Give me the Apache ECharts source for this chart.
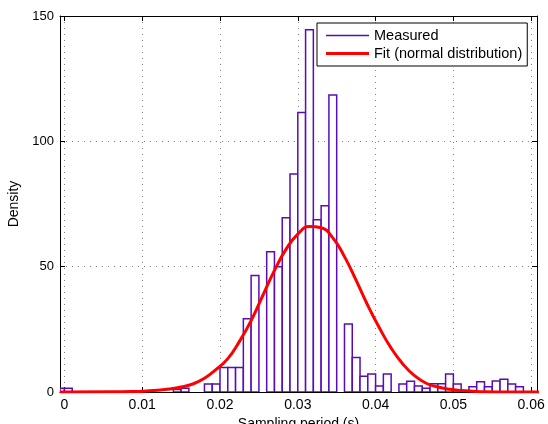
<!DOCTYPE html>
<html>
<head>
<meta charset="utf-8">
<script src="https://cdn.jsdelivr.net/npm/echarts@6/dist/echarts.min.js"></script>
<style>
html,body{margin:0;padding:0;background:#fff;}
#chart{width:548px;height:424px;}
</style>
</head>
<body>
<div id="chart"></div>
<script>
// Histogram bins (left edge of each 0.001 s bin) and measured density
var binWidth = 0.001;
var binStarts = [];
for (var k = -1; k <= 59; k++) binStarts.push(+(k * binWidth).toFixed(3));
var densities = [
  1.5, 1.5, 0, 0, 0, 0, 0, 0, 0, 0,
  0, 0, 0, 0, 0, 1.0, 1.5, 0, 0, 3.2,
  3.2, 9.8, 9.8, 9.8, 29.2, 46.5, 0, 56, 50, 69.5,
  87, 111.5, 144.5, 68.7, 74.3, 118.5, 0, 27.1, 13.8, 6.3,
  7.2, 2.4, 7.2, 0, 3.2, 4.3, 2.4, 1.5, 3.3, 3.3,
  7.2, 3.2, 0, 2.1, 4.1, 2.1, 4.4, 5.1, 3.2, 2.1, 0
];
// Normal-distribution fit curve
var fitX = [-0.0006, 0.0060, 0.0090, 0.0105, 0.0120, 0.0135, 0.0150, 0.0165, 0.0180, 0.0195,
            0.0210, 0.0225, 0.0240, 0.0255, 0.0270, 0.0285, 0.0300, 0.0315, 0.0330, 0.0345,
            0.0360, 0.0375, 0.0390, 0.0405, 0.0420, 0.0435, 0.0450, 0.0465, 0.0480, 0.0495,
            0.0510, 0.0525, 0.0540, 0.0570, 0.0610];
var fitY = [0, 0.05, 0.2, 0.4, 0.7, 1.2, 2.0, 3.2, 5.5, 9.0,
            13.3, 20.2, 28.5, 38.5, 48.5, 57, 63, 66, 65.5, 61.5,
            54, 44.5, 34.5, 25.5, 17.5, 11.2, 6.5, 3.5, 2.0, 1.1,
            0.6, 0.3, 0.1, 0, 0];
// Tick values
var xTicks = [0, 0.01, 0.02, 0.03, 0.04, 0.05, 0.06];
var yTicks = [0, 50, 100, 150];

var histData = binStarts.map(function (b, i) { return [b, densities[i]]; });
var fitData = fitX.map(function (x, i) { return [x, fitY[i]]; });

var FONT = '"Liberation Sans", Arial, Helvetica, sans-serif';
var xMin = -0.00057, xMax = 0.06075;
var barColor = '#5a0cb4';
var gridLine = { show: true, lineStyle: { color: '#808080', width: 1, type: [1, 5] } };

var chart = echarts.init(document.getElementById('chart'), null, { renderer: 'canvas' });
chart.setOption({
  animation: false,
  backgroundColor: '#fff',
  grid: { left: 60, right: 11, top: 16, bottom: 32, containLabel: false, outerBoundsMode: 'none' },
  legend: [
    {
      data: [{ name: 'Fit (normal distribution)', icon: 'rect' }],
      left: 317, top: 23, z: 3,
      orient: 'vertical',
      itemWidth: 43, itemHeight: 3,
      padding: [23, 5, 5, 9],
      backgroundColor: '#fff', borderColor: '#000', borderWidth: 1,
      textStyle: { fontFamily: FONT, fontSize: 14.5, color: '#000' },
      itemStyle: { color: '#ff0000' }
    },
    {
      data: [{ name: 'Measured', icon: 'rect' }],
      left: 317, top: 23, z: 5,
      orient: 'vertical',
      itemWidth: 43, itemHeight: 1.5,
      padding: [5, 5, 5, 9],
      textStyle: { fontFamily: FONT, fontSize: 14.5, color: '#000' },
      itemStyle: { color: barColor }
    }
  ],
  xAxis: [
    {
      type: 'value', min: xMin, max: xMax, position: 'bottom',
      name: 'Sampling period (s)', nameLocation: 'middle', nameGap: 17,
      nameTextStyle: { fontFamily: FONT, fontSize: 14, color: '#000' },
      axisLine: { show: true, onZero: false, lineStyle: { color: '#000', width: 1 } },
      axisTick: { show: true, inside: true, length: 5, customValues: xTicks, lineStyle: { color: '#000' } },
      axisLabel: { show: true, customValues: xTicks, margin: 6, fontFamily: FONT, fontSize: 14, color: '#000',
        formatter: function (v) { return String(+v.toFixed(3)); } },
      splitLine: gridLine
    },
    {
      type: 'value', min: xMin, max: xMax, position: 'top',
      axisLine: { show: true, onZero: false, lineStyle: { color: '#000', width: 1 } },
      axisTick: { show: true, inside: true, length: 5, customValues: xTicks, lineStyle: { color: '#000' } },
      axisLabel: { show: false },
      splitLine: { show: false }
    }
  ],
  yAxis: [
    {
      type: 'value', min: 0, max: 150, interval: 50, position: 'left',
      name: 'Density', nameLocation: 'middle', nameGap: 23, nameRotate: 90,
      nameTextStyle: { fontFamily: FONT, fontSize: 14, color: '#000' },
      axisLine: { show: true, onZero: false, lineStyle: { color: '#000', width: 1 } },
      axisTick: { show: true, inside: true, length: 5, lineStyle: { color: '#000' } },
      axisLabel: { show: true, margin: 6, fontFamily: FONT, fontSize: 13, color: '#000' },
      splitLine: gridLine
    },
    {
      type: 'value', min: 0, max: 150, interval: 50, position: 'right',
      axisLine: { show: true, onZero: false, lineStyle: { color: '#000', width: 1 } },
      axisTick: { show: true, inside: true, length: 5, lineStyle: { color: '#000' } },
      axisLabel: { show: false },
      splitLine: { show: false }
    }
  ],
  series: [
    {
      name: 'Measured',
      type: 'custom',
      xAxisIndex: 0, yAxisIndex: 0,
      data: histData,
      clip: true,
      z: 3,
      itemStyle: { color: barColor },
      renderItem: function (params, api) {
        var x0 = api.value(0), h = api.value(1);
        if (!(h > 0)) return null;
        var p0 = api.coord([x0, h]);
        var p1 = api.coord([x0 + binWidth, 0]);
        var cs = params.coordSys;
        var rect = echarts.graphic.clipRectByRect(
          { x: p0[0], y: p0[1], width: p1[0] - p0[0], height: p1[1] - p0[1] },
          { x: cs.x, y: cs.y, width: cs.width, height: cs.height }
        );
        if (!rect) return null;
        return {
          type: 'rect',
          shape: rect,
          style: { fill: '#ffffff', stroke: barColor, lineWidth: 1.5 }
        };
      }
    },
    {
      name: 'Fit (normal distribution)',
      type: 'line',
      xAxisIndex: 0, yAxisIndex: 0,
      data: fitData,
      smooth: true,
      showSymbol: false,
      symbol: 'none',
      clip: true,
      z: 4,
      itemStyle: { color: '#ff0000' },
      lineStyle: { color: '#ff0000', width: 3 }
    }
  ]
});
</script>
</body>
</html>
